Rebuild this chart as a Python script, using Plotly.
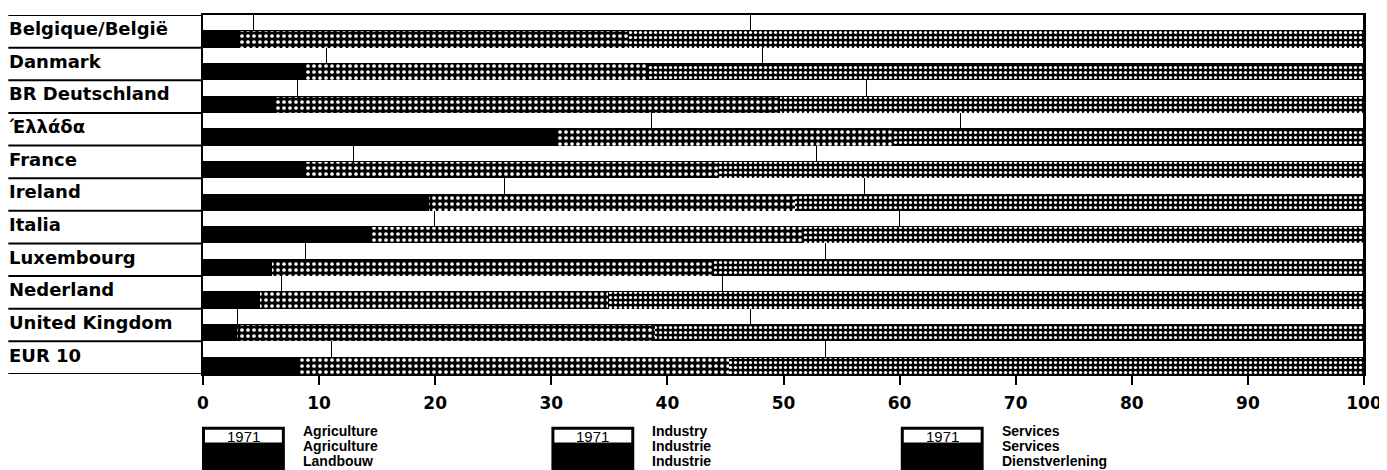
import plotly.graph_objects as go

# Sectoral shares of civilian employment, % (1971 top bar, 1981 bottom bar)
COUNTRIES = ['Belgique/België', 'Danmark', 'BR Deutschland', 'Έλλάδα', 'France', 'Ireland',
             'Italia', 'Luxembourg', 'Nederland', 'United Kingdom', 'EUR 10']

AGRI_1971 = [4.4, 10.7, 8.2, 38.7, 13.0, 26.0, 20.0, 8.9, 6.8, 3.0, 11.1]
IND_1971 = [42.8, 37.5, 49.0, 26.6, 39.9, 31.0, 40.0, 44.8, 38.0, 44.2, 42.6]
SERV_1971 = [round(100 - a - b, 1) for a, b in zip(AGRI_1971, IND_1971)]

AGRI_1981 = [3.2, 8.8, 6.2, 30.4, 8.9, 19.5, 14.4, 5.9, 4.9, 2.9, 8.3]
IND_1981 = [33.5, 29.5, 43.5, 29.0, 35.5, 31.5, 37.2, 38.0, 30.0, 36.0, 37.0]
SERV_1981 = [round(100 - a - b, 1) for a, b in zip(AGRI_1981, IND_1981)]

TICKS = list(range(0, 101, 10))

LEGEND_YEAR = '1971'
LEGEND_TEXT = [['Agriculture', 'Agriculture', 'Landbouw'],
               ['Industry', 'Industrie', 'Industrie'],
               ['Services', 'Services', 'Dienstverlening']]

# page has an 8px body margin, so the figure starts at (8, 8)
OFF = 8
W, H = 1387 - OFF, 470 - OFF
L, R, T, B = 203 - OFF, W - (1366 - OFF), 13 - OFF, H - (374 - OFF)
PW, PH = W - L - R, H - T - B

FONT = 'Liberation Sans, Arial, sans-serif'
FONT_WIDE = 'DejaVu Sans, Verdana, sans-serif'


def px(x):
    # page pixel -> paper x
    return (x - OFF - L) / PW


def py(y):
    # page pixel -> paper y
    return (H - B - (y - OFF)) / PH


rows = list(range(len(COUNTRIES)))
y_top = [r - 0.25 for r in rows]
y_bot = [r + 0.25 for r in rows]

fig = go.Figure()

top_style = dict(color='white', line=dict(color='black', width=1.5))
for vals in (AGRI_1971, IND_1971, SERV_1971):
    fig.add_trace(go.Bar(x=vals, y=y_top, orientation='h', width=0.5,
                         marker=top_style, showlegend=False, hoverinfo='x'))

fig.add_trace(go.Bar(x=AGRI_1981, y=y_bot, orientation='h', width=0.5,
                     marker=dict(color='black', line=dict(width=0)),
                     showlegend=False, hoverinfo='x'))
fig.add_trace(go.Bar(x=IND_1981, y=y_bot, orientation='h', width=0.5,
                     marker=dict(color='black', line=dict(width=0),
                                 pattern=dict(shape='.', fgcolor='white', bgcolor='black',
                                              size=6, solidity=0.3, fillmode='replace')),
                     showlegend=False, hoverinfo='x'))
fig.add_trace(go.Bar(x=SERV_1981, y=y_bot, orientation='h', width=0.5,
                     marker=dict(color='black', line=dict(width=0),
                                 pattern=dict(shape='.', fgcolor='white', bgcolor='black',
                                              size=5, solidity=0.33, fillmode='replace')),
                     showlegend=False, hoverinfo='x'))

shapes = []
annotations = []

# label column: separators and country names
for r in rows + [len(rows)]:
    shapes.append(dict(type='line', xref='paper', yref='y', x0=px(8), x1=px(201),
                       y0=r - 0.5, y1=r - 0.5, line=dict(color='black', width=2)))
for r, name in zip(rows, COUNTRIES):
    annotations.append(dict(x=px(7), y=r - 0.08, xref='paper', yref='y', text=name,
                            showarrow=False, xanchor='left', yanchor='middle',
                            font=dict(family=FONT_WIDE, size=18, color='black', weight='bold')))

# legend boxes
for k, lines in enumerate(LEGEND_TEXT):
    x0 = 202 + 350 * k
    shapes.append(dict(type='rect', xref='paper', yref='paper', x0=px(x0), x1=px(x0 + 83),
                       y0=py(476), y1=py(427), fillcolor='black', line=dict(width=0)))
    shapes.append(dict(type='rect', xref='paper', yref='paper', x0=px(x0 + 3), x1=px(x0 + 80),
                       y0=py(443), y1=py(430), fillcolor='white', line=dict(width=0)))
    annotations.append(dict(x=px(x0 + 41.5), y=py(436.5), xref='paper', yref='paper',
                            text=LEGEND_YEAR, showarrow=False, xanchor='center', yanchor='middle',
                            font=dict(family=FONT, size=15, color='black')))
    for j, t in enumerate(lines):
        annotations.append(dict(x=px(x0 + 99), y=py(431 + 15 * j), xref='paper', yref='paper',
                                text=t, showarrow=False, xanchor='left', yanchor='middle',
                                font=dict(family=FONT, size=14, color='black', weight='bold')))

fig.update_layout(
    width=W, height=H,
    margin=dict(l=L, r=R, t=T, b=B),
    paper_bgcolor='white', plot_bgcolor='white',
    barmode='stack', bargap=0,
    shapes=shapes, annotations=annotations,
    showlegend=False,
)
fig.update_xaxes(range=[0, 100], tickvals=TICKS, showgrid=False, zeroline=False,
                 showline=True, linecolor='black', linewidth=2, mirror=True,
                 ticks='outside', ticklen=9, tickwidth=2, tickcolor='black',
                 ticklabelstandoff=4,
                 tickfont=dict(family=FONT_WIDE, size=17, color='black', weight='bold'))
fig.update_yaxes(range=[len(rows) - 0.5, -0.5], showgrid=False, zeroline=False,
                 showticklabels=False, showline=True, linecolor='black', linewidth=2,
                 mirror=True, ticks='')

fig.write_html("out.html")
